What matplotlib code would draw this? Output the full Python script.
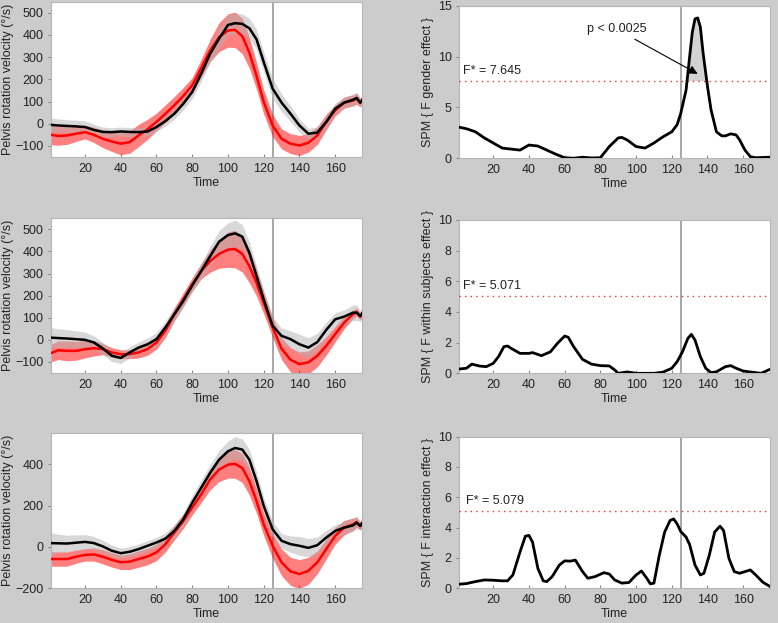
import matplotlib
matplotlib.use('Agg')
import matplotlib.pyplot as plt
import numpy as np

plt.rcParams['font.family'] = ['Liberation Sans', 'DejaVu Sans']

# time grid used for the left (velocity) panels
t_vel = [1, 5, 10, 15, 20, 25, 30, 35, 40, 45, 50, 55, 60, 65, 70, 75, 80, 85, 90, 95,
         100, 104, 108, 112, 116, 120, 125, 130, 135, 140, 145, 150, 155, 160, 165,
         170, 172, 174, 175]

# gender effect row (black = group 1, red = group 2), mean and sd
gen_blk = [-5, -8, -10, -12, -15, -28, -37, -38, -35, -37, -38, -35, -15, 12, 45, 90, 143, 225, 315, 383,
           445, 453, 450, 430, 380, 278, 158, 95, 45, -8, -45, -40, 8, 68, 95, 108, 116, 95, 105]
gen_blk_sd = [30, 30, 28, 28, 28, 25, 22, 20, 20, 20, 20, 20, 20, 22, 25, 28, 30, 35, 40, 45,
              45, 45, 45, 45, 45, 45, 45, 40, 35, 30, 25, 25, 25, 25, 25, 25, 25, 20, 20]
gen_red = [-50, -55, -53, -45, -38, -50, -68, -80, -90, -83, -53, -25, 8, 45, 83, 125, 173, 250, 330, 390,
           420, 423, 395, 320, 215, 98, -8, -68, -90, -98, -86, -53, 8, 60, 95, 105, 113, 95, 105]
gen_red_sd = [45, 42, 40, 35, 30, 35, 40, 45, 50, 50, 50, 45, 40, 40, 40, 38, 35, 40, 50, 65,
              75, 80, 80, 70, 60, 55, 50, 45, 45, 45, 42, 40, 35, 25, 25, 25, 25, 20, 20]

# within subjects row
wit_blk = [10, 8, 6, 3, 0, -12, -39, -72, -82, -57, -35, -20, 3, 56, 116, 176, 246, 311, 378, 444,
           474, 482, 467, 393, 288, 183, 63, 18, 3, -20, -35, -10, 45, 93, 105, 123, 123, 108, 120]
wit_blk_sd = [45, 42, 40, 38, 35, 30, 28, 26, 25, 25, 25, 28, 30, 30, 30, 30, 30, 35, 45, 50,
              55, 60, 55, 50, 45, 40, 40, 35, 38, 45, 45, 40, 35, 30, 30, 35, 35, 25, 25]
wit_red = [-60, -47, -50, -50, -42, -38, -42, -57, -65, -65, -57, -42, -12, 41, 116, 183, 251, 311, 356, 389,
           408, 411, 389, 333, 258, 168, 56, -40, -90, -110, -102, -72, -27, 26, 78, 116, 126, 105, 116]
wit_red_sd = [40, 42, 45, 42, 40, 35, 25, 22, 20, 20, 25, 28, 30, 30, 30, 30, 30, 35, 50, 65,
              80, 85, 82, 75, 60, 50, 45, 50, 55, 55, 52, 50, 42, 35, 28, 20, 18, 15, 15]

# interaction row
int_blk = [18, 17, 16, 20, 24, 18, 2, -19, -31, -24, -11, 5, 21, 40, 77, 133, 214, 286, 358, 422,
           463, 479, 471, 422, 318, 198, 85, 29, 13, 5, -5, 8, 45, 77, 93, 104, 117, 101, 114]
int_blk_sd = [50, 45, 40, 38, 35, 32, 30, 28, 25, 25, 25, 25, 25, 28, 30, 32, 35, 38, 40, 45,
              50, 55, 52, 50, 45, 40, 38, 35, 40, 45, 45, 40, 35, 30, 30, 30, 28, 20, 20]
int_red = [-59, -59, -59, -48, -39, -37, -48, -63, -75, -72, -59, -47, -27, 13, 69, 125, 190, 254, 326, 374,
           398, 402, 382, 318, 222, 109, 5, -75, -119, -132, -116, -75, -11, 53, 93, 109, 120, 101, 114]
int_red_sd = [35, 35, 35, 32, 30, 32, 35, 35, 35, 38, 40, 40, 40, 38, 35, 35, 35, 40, 50, 58,
              65, 70, 70, 68, 60, 55, 60, 65, 68, 70, 65, 55, 48, 40, 35, 30, 25, 20, 20]

# SPM{F} curves
t_gen = [1, 5, 10, 15, 20, 25, 30, 35, 40, 45, 50, 55, 60, 65, 70, 75, 80, 85, 90, 92, 95, 100, 105,
         110, 115, 120, 123, 125, 128, 130, 131.5, 133, 134.5, 136, 137.5, 140, 142, 145, 148, 150,
         153, 156, 158, 161, 164, 167, 175]
spm_gen = [3.05, 2.9, 2.6, 2.0, 1.5, 1.0, 0.9, 0.8, 1.3, 1.2, 0.8, 0.4, 0.05, 0.0, 0.1, 0.03, 0.05,
           1.15, 2.0, 2.05, 1.8, 1.15, 1.0, 1.5, 2.1, 2.6, 3.3, 4.4, 6.7, 10.0, 12.4, 13.7, 13.8,
           12.9, 10.4, 7.05, 4.75, 2.6, 2.2, 2.2, 2.4, 2.3, 1.8, 0.8, 0.15, 0.05, 0.1]

t_wit = [1, 5, 8, 12, 16, 20, 23, 26, 28, 30, 35, 40, 42, 47, 52, 56, 60, 62, 65, 70, 75, 80, 85, 88,
         90, 95, 100, 110, 115, 120, 123, 126, 129, 131, 133, 136, 139, 142, 145, 150, 153, 156,
         160, 165, 170, 175]
spm_wit = [0.28, 0.33, 0.6, 0.48, 0.43, 0.65, 1.1, 1.74, 1.78, 1.63, 1.3, 1.3, 1.35, 1.15, 1.4, 1.96,
           2.43, 2.35, 1.74, 0.91, 0.6, 0.5, 0.48, 0.22, 0.0, 0.09, 0.0, 0.0, 0.07, 0.33, 0.76, 1.41,
           2.28, 2.54, 2.17, 1.09, 0.33, 0.04, 0.1, 0.43, 0.5, 0.33, 0.15, 0.07, 0.0, 0.26]

t_int = [1, 5, 10, 15, 20, 25, 28, 31, 35, 38, 40, 42, 45, 48, 50, 53, 57, 60, 63, 66, 70, 73, 77,
         82, 85, 88, 92, 96, 100, 103, 106, 108, 110, 113, 116, 119, 121, 123, 125, 128, 130, 133,
         136, 138, 141, 144, 147, 149, 152, 155, 158, 161, 164, 167, 171, 175]
spm_int = [0.26, 0.3, 0.43, 0.54, 0.52, 0.48, 0.48, 0.87, 2.39, 3.43, 3.48, 3.04, 1.3, 0.48, 0.43,
           0.76, 1.52, 1.8, 1.78, 1.85, 1.09, 0.65, 0.76, 1.02, 0.93, 0.54, 0.33, 0.37, 0.87, 1.13,
           0.65, 0.28, 0.33, 2.17, 3.7, 4.46, 4.57, 4.24, 3.74, 3.37, 2.87, 1.52, 0.87, 0.98, 2.17,
           3.7, 4.09, 3.8, 1.96, 1.09, 0.98, 1.09, 1.2, 0.87, 0.39, 0.11]

f_crit = [7.645, 5.071, 5.079]
f_names = ['gender', 'within subjects', 'interaction']
t_event = 125.3

bg = '#cccccc'
txt = '#222222'
fs = 9

fig = plt.figure(figsize=(7.78, 6.23), dpi=100, facecolor=bg)

left_pos = [(0.0656, 0.748, 0.3997, 0.2493),
            (0.0656, 0.4013, 0.3997, 0.2483),
            (0.0656, 0.056, 0.3997, 0.2485)]
right_pos = [(0.5904, 0.746, 0.3993, 0.2448),
             (0.5904, 0.4008, 0.3993, 0.2461),
             (0.5904, 0.056, 0.3993, 0.2431)]


def style(ax):
    ax.set_xlim(1, 175)
    ax.set_xticks([20, 40, 60, 80, 100, 120, 140, 160])
    ax.tick_params(axis='x', direction='in', length=2.5, colors='#888888', labelcolor=txt,
                   labelsize=fs, pad=4)
    ax.tick_params(axis='y', direction='out', length=2.5, colors='#888888', labelcolor=txt,
                   labelsize=fs, pad=3)
    for s in ax.spines.values():
        s.set_color('#b5b5b5')
        s.set_linewidth(0.8)
    ax.set_xlabel('Time', fontsize=fs, color=txt, labelpad=1.5)
    ax.axvline(t_event, color='#a0a0a0', lw=1.3, zorder=1)


vel = [(gen_blk, gen_blk_sd, gen_red, gen_red_sd),
       (wit_blk, wit_blk_sd, wit_red, wit_red_sd),
       (int_blk, int_blk_sd, int_red, int_red_sd)]
spm = [(t_gen, spm_gen), (t_wit, spm_wit), (t_int, spm_int)]

tv = np.array(t_vel)
for i in range(3):
    # left: velocity curves
    ax = fig.add_axes(left_pos[i])
    blk, blk_sd, red, red_sd = [np.array(a, dtype=float) for a in vel[i]]
    ax.fill_between(tv, red - red_sd, red + red_sd, color='#ff0000', alpha=0.5, lw=0, zorder=2)
    ax.fill_between(tv, blk - blk_sd, blk + blk_sd, color='#b3b3b3', alpha=0.5, lw=0, zorder=3)
    ax.plot(tv, blk, color='k', lw=1.8, zorder=5)
    ax.plot(tv, red, color='#ff0000', lw=1.8, zorder=4)
    style(ax)
    if i < 2:
        ax.set_ylim(-150, 550)
        ax.set_yticks([-100, 0, 100, 200, 300, 400, 500])
    else:
        ax.set_ylim(-200, 550)
        ax.set_yticks([-200, 0, 200, 400])
    ax.set_ylabel('Pelvis rotation velocity (°/s)', fontsize=fs, color=txt, labelpad=1)

    # right: SPM{F}
    ax = fig.add_axes(right_pos[i])
    ts, fv = np.array(spm[i][0]), np.array(spm[i][1])
    thr = f_crit[i]
    ax.fill_between(ts, thr, fv, where=fv > thr, interpolate=True, color='#d3d3d3', lw=0, zorder=2)
    ax.plot(ts, fv, color='k', lw=2, zorder=4)
    ax.axhline(thr, color='#ff3030', lw=1, linestyle=(0, (1, 3)), zorder=3)
    style(ax)
    if i == 0:
        ax.set_ylim(0, 15)
        ax.set_yticks([0, 5, 10, 15])
        ax.text(3, thr + 0.35, 'F* = %.3f' % thr, fontsize=fs, color=txt, va='bottom')
        ax.annotate('p < 0.0025', xy=(134.5, 8.3), xytext=(89, 12.7), fontsize=fs, color=txt,
                    ha='center', va='center',
                    arrowprops=dict(arrowstyle='-|>', color='k', lw=0.8, mutation_scale=13,
                                    shrinkA=2, shrinkB=0))
    else:
        ax.set_ylim(0, 10)
        ax.set_yticks([0, 2, 4, 6, 8, 10])
        ax.text(3 if i == 1 else 5, thr + 0.2 if i == 1 else thr + 0.3, 'F* = %.3f' % thr,
                fontsize=fs, color=txt, va='bottom')
    ax.set_ylabel('SPM { F %s effect }' % f_names[i], fontsize=fs, color=txt, labelpad=3)

plt.savefig('out.png', dpi=100, facecolor=bg)
